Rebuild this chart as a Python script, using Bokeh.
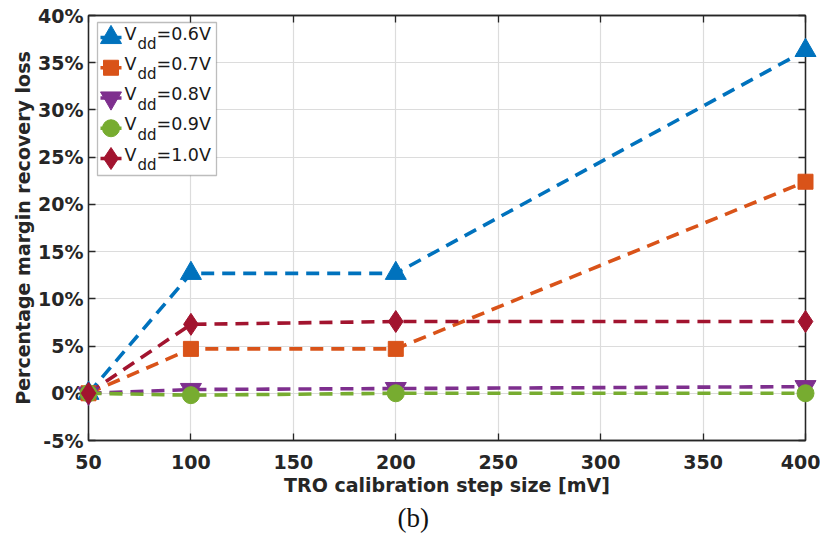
from bokeh.plotting import figure
from bokeh.models import (LinearAxis, FixedTicker, Range1d, BoxAnnotation, ColumnDataSource, Title)
from bokeh.core.properties import value
from bokeh.embed import file_html
from bokeh.resources import INLINE

# ---- data ----
step_mv = [50, 100, 200, 400]
vdd_names = ["0.6V", "0.7V", "0.8V", "0.9V", "1.0V"]
loss_06 = [0.0, 12.7, 12.7, 36.3]
loss_07 = [0.0, 4.7, 4.7, 22.4]
loss_08 = [0.0, 0.4, 0.5, 0.7]
loss_09 = [0.0, -0.2, 0.0, 0.0]
loss_10 = [0.0, 7.3, 7.6, 7.6]
x_ticks = [50, 100, 150, 200, 250, 300, 350, 400]
y_ticks = [-5, 0, 5, 10, 15, 20, 25, 30, 35, 40]
y_tick_labels = {t: f"{t}%" for t in y_ticks}

series = [loss_06, loss_07, loss_08, loss_09, loss_10]
colors = ["#0072BD", "#D95319", "#7E2F8E", "#77AC30", "#A2142F"]
markers = ["triangle", "square", "inverted_triangle", "circle", "diamond"]
msizes = [21, 15, 21, 17, 22]

X0, X1, Y0, Y1 = 50, 400, -5, 40
W, H = 820, 540
FL, FR, FT, FB = 88, 805, 15, 440

p = figure(width=W, height=H, output_backend="svg", toolbar_location=None,
           x_range=Range1d(X0, X1), y_range=Range1d(Y0, Y1),
           min_border_left=FL, min_border_right=W - FR,
           min_border_top=FT, min_border_bottom=H - FB)
p.background_fill_color = "white"
p.border_fill_color = "white"
p.outline_line_color = "#262626"
p.outline_line_width = 1.3

AXC = "#262626"
FONT = "DejaVu Sans"

for ax in (p.xaxis[0], p.yaxis[0]):
    ax.axis_line_color = AXC
    ax.axis_line_width = 1.3
    ax.major_tick_line_color = AXC
    ax.major_tick_line_width = 1.3
    ax.major_tick_in = 7
    ax.major_tick_out = 0
    ax.minor_tick_line_color = None
    ax.major_label_text_font = FONT
    ax.major_label_text_font_style = "bold"
    ax.major_label_text_font_size = "19px"
    ax.major_label_text_color = AXC
    ax.axis_label_text_font = FONT
    ax.axis_label_text_font_style = "bold"
    ax.axis_label_text_font_size = "19px"
    ax.axis_label_text_color = AXC

p.xaxis[0].ticker = FixedTicker(ticks=x_ticks)
p.yaxis[0].ticker = FixedTicker(ticks=y_ticks)
p.yaxis[0].major_label_overrides = y_tick_labels
p.xaxis[0].axis_label = "TRO calibration step size [mV]"
p.yaxis[0].axis_label = "Percentage margin recovery loss"
p.xaxis[0].major_label_standoff = 14
p.xaxis[0].axis_label_standoff = 2
p.yaxis[0].major_label_standoff = 5
p.yaxis[0].axis_label_standoff = 1

# box ticks on right / top
for side, ticks in (("right", y_ticks), ("above", x_ticks)):
    ax = LinearAxis(ticker=FixedTicker(ticks=ticks))
    ax.axis_line_color = AXC
    ax.axis_line_width = 1.3
    ax.major_tick_line_color = AXC
    ax.major_tick_line_width = 1.3
    ax.major_tick_in = 7
    ax.major_tick_out = 0
    ax.minor_tick_line_color = None
    ax.major_label_overrides = {t: "" for t in ticks}
    ax.major_label_standoff = 0
    p.add_layout(ax, side)

p.xgrid.ticker = FixedTicker(ticks=x_ticks)
p.ygrid.ticker = FixedTicker(ticks=y_ticks)
for g in (p.xgrid[0], p.ygrid[0]):
    g.grid_line_color = "#DCDCDC"
    g.grid_line_width = 1.2

for ys, c, m, s in zip(series, colors, markers, msizes):
    p.line(step_mv, ys, line_color=c, line_width=3.6, line_dash="13 8")
    p.scatter(step_mv, ys, marker=m, size=s, fill_color=c, line_color=c, level="overlay")


# ---- legend (drawn by hand so the V_dd subscript can be shown) ----
def dx(px):
    return X0 + (px - FL) * (X1 - X0) / (FR - FL)


def dy(py):
    return Y0 + (FB - py) * (Y1 - Y0) / (FB - FT)


p.add_layout(BoxAnnotation(left=dx(97), right=dx(216), top=dy(22), bottom=dy(175),
                           fill_color="white", fill_alpha=1.0, line_color=AXC,
                           line_width=1.3, level="underlay"))

row0, pitch = 37.0, 30.25
rows = [row0 + i * pitch for i in range(len(vdd_names))]
for i, (c, m, s) in enumerate(zip(colors, markers, msizes)):
    yy = dy(rows[i])
    p.line([dx(100), dx(121)], [yy, yy], line_color=c, line_width=3.6)
    p.scatter([dx(110.5)], [yy], marker=m, size=s, fill_color=c, line_color=c)

txt_main = ColumnDataSource(dict(
    x=[dx(124)] * len(rows), y=[dy(r - 4) for r in rows], t=["V"] * len(rows)))
txt_sub = ColumnDataSource(dict(
    x=[dx(137)] * len(rows), y=[dy(r + 6.5) for r in rows], t=["dd"] * len(rows)))
txt_val = ColumnDataSource(dict(
    x=[dx(156)] * len(rows), y=[dy(r - 4) for r in rows], t=["=" + n for n in vdd_names]))
for src, fs in ((txt_main, "17.5px"), (txt_sub, "15px"), (txt_val, "17.5px")):
    p.text(x="x", y="y", text="t", source=src, text_font=value(FONT),
           text_font_size=value(fs), text_baseline="middle", text_color="#1a1a1a")

cap = Title(text="(b)", align="left", offset=397 - FL, text_font="Liberation Serif",
            text_font_size="27px", text_font_style="normal", text_color="#111111",
            standoff=5)
p.add_layout(cap, "below")

open("out.html", "w").write(file_html(p, INLINE))
